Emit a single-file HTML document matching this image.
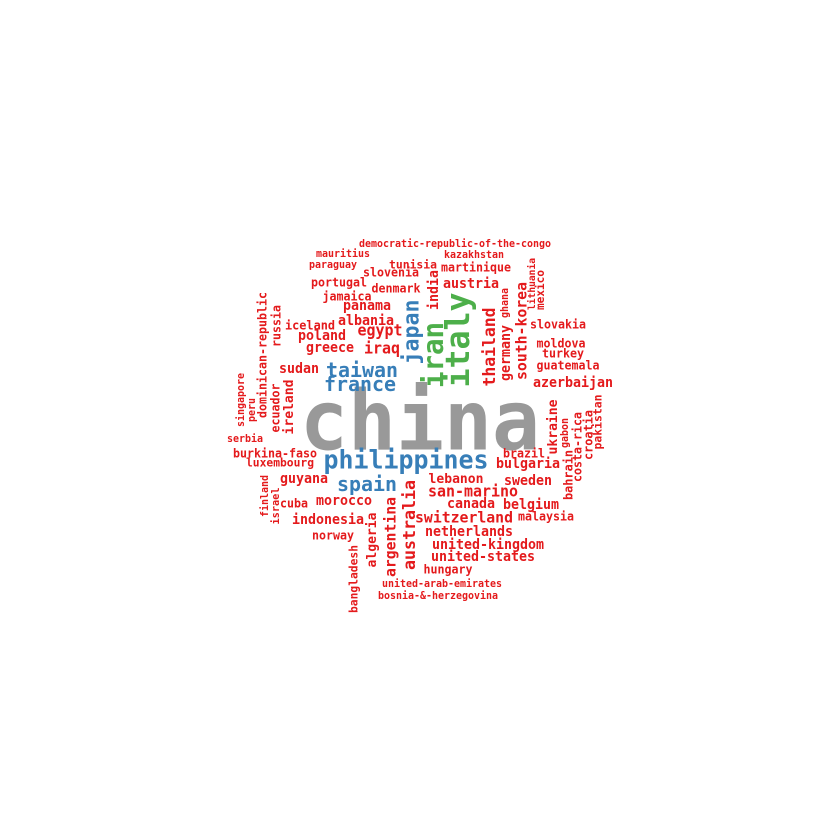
<!DOCTYPE html>
<html><head><meta charset="utf-8"><style>
html,body{margin:0;padding:0;background:#fff;}
svg{display:block;}
text{font-family:"DejaVu Sans Mono","Liberation Mono",monospace;font-weight:bold;}
</style></head><body>
<svg id="cloud" width="840" height="840" viewBox="0 0 840 840"></svg>
<script>
const words=["china","philippines","spain","taiwan","france","japan","iran","italy","thailand","germany","ghana","south-korea","lithuania","mexico","india","australia","argentina","algeria","bangladesh","finland","israel","singapore","peru","dominican-republic","russia","ecuador","ireland","ukraine","gabon","bahrain","costa-rica","croatia","pakistan","democratic-republic-of-the-congo","mauritius","kazakhstan","paraguay","tunisia","slovenia","martinique","portugal","austria","denmark","jamaica","panama","albania","iceland","egypt","poland","greece","iraq","sudan","slovakia","moldova","turkey","guatemala","azerbaijan","serbia","burkina-faso","luxembourg","guyana","cuba","morocco","indonesia","norway","brazil","bulgaria","lebanon","sweden","san-marino","canada","belgium","switzerland","malaysia","netherlands","united-kingdom","united-states","hungary","united-arab-emirates","bosnia-&-herzegovina"];
const groups=["g","b","b","b","b","b","v","v","r","r","r","r","r","r","r","r","r","r","r","r","r","r","r","r","r","r","r","r","r","r","r","r","r","r","r","r","r","r","r","r","r","r","r","r","r","r","r","r","r","r","r","r","r","r","r","r","r","r","r","r","r","r","r","r","r","r","r","r","r","r","r","r","r","r","r","r","r","r","r","r"];
const cx=[420,406,367,362,360,412,435,460,490,506,505,522,532,541,434,410,391,372,354,265,276,241,252,263,277,276,289,553,565,569,578,589,598,455,343,474,333,413,391,476,339,471,396,347,367,366,310,380,322,330,382,299,558,561,563,568,573,245,275,280,304,294,344,328,333,524,528,456,528,473,471,531,464,546,469,488,483,448,442,438];
const cy=[426,461,485,371,385,332,355,340,347,353,303,331,284,290,290,525,537,540,579,496,506,400,410,355,326,408,407,427,433,475,447,435,422,244,254,255,265,265,273,268,283,284,289,297,306,321,326,331,336,348,349,369,325,344,354,366,383,439,454,463,479,504,501,520,536,454,464,479,481,492,504,505,518,517,532,545,557,570,584,596];
const lens=[240,165,60,72,72,65,66,95,79,56,30,98,52,40,40,90,80,55,68,42,37,54,24,126,42,49,55,55,30,50,70,50,55,192,54,60,48,48,56,70,56,56,49,49,48,56,50,45,48,48,36,40,56,49,42,63,80,36,84,68,48,28,56,72,42,42,64,55,48,90,48,56,98,56,88,112,104,49,120,120];
const rot=[0,0,0,0,0,1,1,1,1,1,1,1,1,1,1,1,1,1,1,1,1,1,1,1,1,1,1,1,1,1,1,1,1,0,0,0,0,0,0,0,0,0,0,0,0,0,0,0,0,0,0,0,0,0,0,0,0,0,0,0,0,0,0,0,0,0,0,0,0,0,0,0,0,0,0,0,0,0,0,0];
const palette={g:"#999999",b:"#377eb8",v:"#4daf4a",r:"#e41a1c"};
const svg=document.getElementById('cloud');
const NS="http://www.w3.org/2000/svg";
for(let i=0;i<words.length;i++){
  const w=words[i];
  const fs=lens[i]/(w.length*0.6)*1.04;
  const g=document.createElementNS(NS,'g');
  g.setAttribute('transform','translate('+cx[i]+','+cy[i]+')'+(rot[i]?' rotate(-90)':''));
  const t=document.createElementNS(NS,'text');
  
  
  t.setAttribute('x',0);
  t.setAttribute('y',(0.28*fs).toFixed(1));
  t.setAttribute('text-anchor','middle');
  t.setAttribute('font-size',fs.toFixed(1));
  t.setAttribute('textLength',lens[i]);
  t.setAttribute('lengthAdjust','spacingAndGlyphs');
  t.setAttribute('fill',palette[groups[i]]);
  t.textContent=w;
  g.appendChild(t);
  svg.appendChild(g);
}
</script>
</body></html>
